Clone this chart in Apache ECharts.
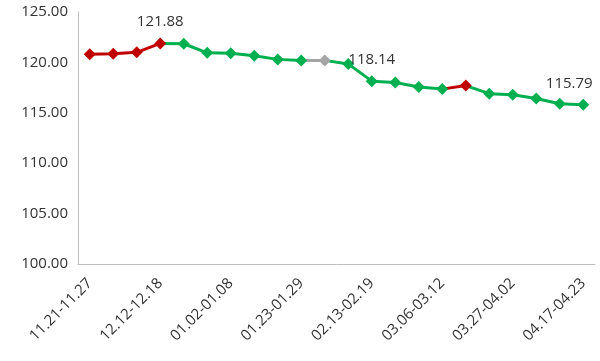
<!DOCTYPE html>
<html>
<head>
<meta charset="utf-8">
<script src="https://cdn.jsdelivr.net/npm/echarts@6/dist/echarts.min.js"></script>
<style>html,body{margin:0;padding:0;background:#fff}#c{width:600px;height:361px}</style>
</head>
<body>
<div id="c"></div>
<script>
var categories = ['11.21-11.27','11.28-12.04','12.05-12.11','12.12-12.18','12.19-12.25','12.26-01.01','01.02-01.08','01.09-01.15','01.16-01.22','01.23-01.29','01.30-02.05','02.06-02.12','02.13-02.19','02.20-02.26','02.27-03.05','03.06-03.12','03.13-03.19','03.20-03.26','03.27-04.02','04.03-04.09','04.10-04.16','04.17-04.23'];
var values = [120.80,120.85,121.00,121.88,121.85,120.95,120.90,120.66,120.30,120.20,120.20,119.85,118.14,118.00,117.55,117.35,117.70,116.90,116.80,116.42,115.90,115.79];
var labeledIndexes = [3,12,21];
var yTicks = [100,105,110,115,120,125];

var RED = '#C00000', GREEN = '#00B050', GRAY = '#A5A5A5';
var FONT = 'Open Sans';

var data = values.map(function(v,i){
  var item = {value: v};
  if (labeledIndexes.indexOf(i) >= 0) {
    item.label = {show: true, formatter: function(p){return p.value.toFixed(2);}};
    if (i === values.length - 1) item.label.offset = [-14, 0];
  }
  return item;
});

var chart = echarts.init(document.getElementById('c'), null, {renderer:'canvas'});
chart.setOption({
  animation: false,
  backgroundColor: '#fff',
  grid: {left: 78, right: 5, top: 12, bottom: 97, containLabel: false},
  xAxis: {
    type: 'category',
    data: categories,
    boundaryGap: true,
    axisLine: {show: true, lineStyle: {color: '#BFBFBF', width: 1}},
    axisTick: {show: false},
    axisLabel: {interval: 2, rotate: 45, margin: 17, fontFamily: FONT, fontSize: 15, color: '#333333'},
    splitLine: {show: false}
  },
  yAxis: {
    type: 'value',
    min: yTicks[0],
    max: yTicks[yTicks.length-1],
    interval: 5,
    axisLine: {show: true, lineStyle: {color: '#BFBFBF', width: 1}},
    axisTick: {show: false},
    splitLine: {show: false},
    axisLabel: {margin: 10, fontFamily: FONT, fontSize: 15, color: '#333333', formatter: function(v){return v.toFixed(2);}}
  },
  visualMap: {
    type: 'piecewise',
    show: false,
    dimension: 0,
    seriesIndex: 0,
    pieces: [
      {gte: 0, lte: 3, color: RED},
      {gt: 3, lte: 9, color: GREEN},
      {gt: 9, lte: 10, color: GRAY},
      {gt: 10, lte: 15, color: GREEN},
      {gt: 15, lte: 16, color: RED},
      {gt: 16, lte: 21, color: GREEN}
    ]
  },
  series: [{
    type: 'line',
    data: data,
    symbol: 'diamond',
    symbolSize: 12,
    lineStyle: {width: 3},
    label: {position: 'top', distance: 8, fontFamily: FONT, fontSize: 15, color: '#333333'}
  }]
});
</script>
</body>
</html>
